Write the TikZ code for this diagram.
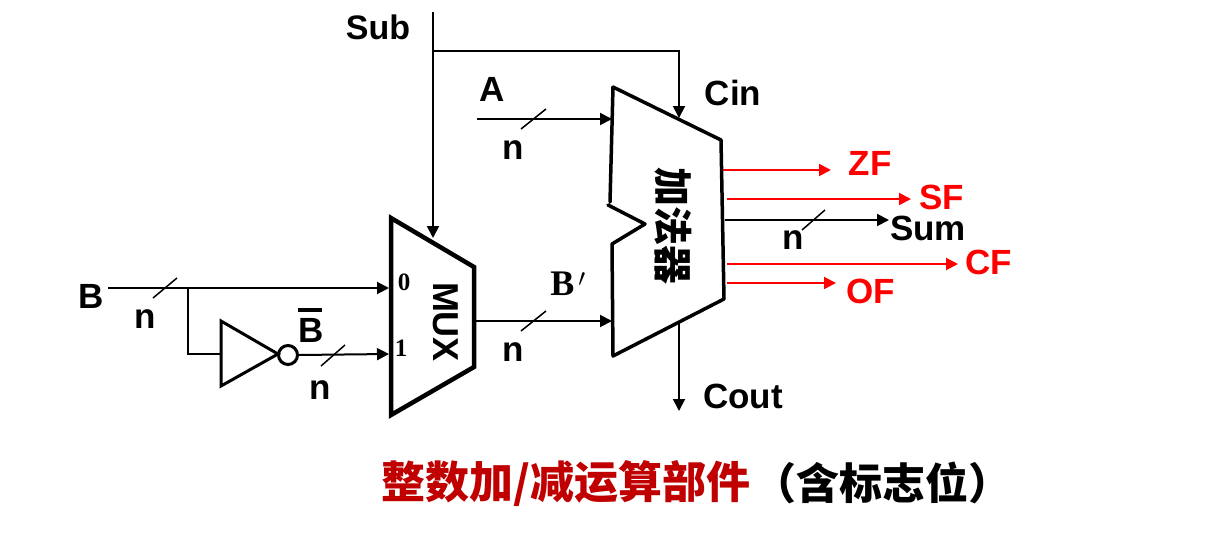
\documentclass[tikz,border=0pt]{standalone}
\usepackage{fontspec}
\setmainfont{Liberation Sans}
\newfontfamily\cjk{Noto Sans CJK SC}
\newfontfamily\serifb{Liberation Serif}
\usetikzlibrary{arrows.meta}
\definecolor{tred}{RGB}{192,0,0}
\tikzset{
 wire/.style={line width=2pt,-{Triangle[length=12pt,width=12pt]}},
 plain/.style={line width=2pt},
 rwire/.style={line width=2pt,red,-{Triangle[length=12pt,width=12pt]}},
 slash/.style={line width=1.5pt},
 block/.style={line width=4.5pt,line join=miter},
 lbl/.style={inner sep=0pt,font=\fontsize{35}{35}\selectfont\bfseries},
 small/.style={inner sep=0pt,font=\fontsize{34}{34}\selectfont\bfseries},
 rlbl/.style={inner sep=0pt,text=red,font=\fontsize{35}{35}\selectfont\bfseries},
 num/.style={inner sep=0pt,font=\fontsize{25}{25}\serifb\bfseries},
}
\begin{document}
\begin{tikzpicture}[x=1pt,y=-1pt]
\useasboundingbox (0,0) rectangle (1211,544);
% Coordinates
\coordinate (subtop) at (433,12);
\coordinate (subj) at (433,51);
\coordinate (subturn) at (679,51);
\coordinate (cinin) at (679,118);
\coordinate (muxsel) at (433,238);
\coordinate (astart) at (477,119);
\coordinate (aend) at (612,119);
\coordinate (bstart) at (108,288);
\coordinate (bj) at (188,288);
\coordinate (bend) at (389,288);
\coordinate (bdown) at (188,354);
\coordinate (invin) at (221,354);
\coordinate (nb2) at (389,354);
\coordinate (mo) at (476,321);
\coordinate (ai) at (612,321);
\coordinate (cout1) at (679,323);
\coordinate (cout2) at (679,411);
% MUX
\draw[block] (391,218) -- (474,267) -- (474,367) -- (391,415) -- cycle;
\node[rotate=-90,inner sep=0pt,font=\fontsize{36}{36}\selectfont\bfseries] (muxt) at (446,322) {MUX};
% Adder
\draw[line width=3.5pt,line join=round,line cap=round] (613,87) -- (721,140) -- (724,299) -- (613,356) -- (612,244) -- (645,224) -- (608,205) (610,202) -- (613,87);
\node[rotate=-90,inner sep=0pt,font=\fontsize{39}{39}\cjk\bfseries] (addt) at (673,226) {加法器};
% Inverter
\draw[line width=3pt,line join=miter] (221,321) -- (278,354) -- (221,386) -- cycle;
\node[circle,draw,line width=3pt,minimum size=19pt,inner sep=0pt] (bub) at (288,355) {};
% Wires
\draw[plain] (subtop) -- (subj);
\draw[wire] (subj) -- (muxsel);
\draw[wire] (subj) -- (subturn) -- (cinin);
\draw[wire] (astart) -- (aend);
\draw[wire] (bstart) -- (bend);
\draw[plain] (bj) -- (bdown) -- (invin);
\draw[wire] (bub.east) -- (nb2);
\draw[wire] (mo) -- (ai);
\draw[wire] (cout1) -- (cout2);
% Output wires
\coordinate (zf0) at (723,170); \coordinate (zf1) at (831,170);
\coordinate (sf0) at (727,199); \coordinate (sf1) at (911,199);
\coordinate (su0) at (725,220); \coordinate (su1) at (889,220);
\coordinate (cf0) at (727,264); \coordinate (cf1) at (958,264);
\coordinate (of0) at (727,283); \coordinate (of1) at (836,283);
\draw[rwire] (zf0) -- (zf1);
\draw[rwire] (sf0) -- (sf1);
\draw[wire] (su0) -- (su1);
\draw[rwire] (cf0) -- (cf1);
\draw[rwire] (of0) -- (of1);
% Slashes
\draw[slash] (521,129) -- (546,109);
\draw[slash] (153,298) -- (177,278);
\draw[slash] (321,366) -- (345,345);
\draw[slash] (521,331) -- (546,311);
\draw[slash] (802,230) -- (825,210);
% Labels
\node[small] (sub) at (378,27) {Sub};
\node[lbl] (a) at (492,89) {A};
\node[lbl] (na) at (513,150) {n};
\node[lbl] (cin) at (733,93) {Cin};
\node[lbl] (b) at (91,296) {B};
\node[lbl] (nbl) at (145,319) {n};
\node[lbl] (barb) at (311,330) {B};
\draw[line width=3.5pt] (298,310) -- (322,310);
\node[lbl] (nbb) at (320,390) {n};
\node[num] (zero) at (404,282) {0};
\node[num] (one) at (401,348) {1};
\node[inner sep=0pt,font=\fontsize{36}{36}\serifb\bfseries] (bp) at (568,284) {B$\,'$};
\node[lbl] (nm) at (513,352) {n};
\node[lbl] (cout) at (743,396) {Cout};
\node[lbl] (ns) at (793,240) {n};
\node[lbl] (sum) at (928,228) {Sum};
\node[rlbl] (zf) at (870,163) {ZF};
\node[rlbl] (sf) at (942,197) {SF};
\node[rlbl] (cf) at (989,262) {CF};
\node[rlbl] (of) at (871,291) {OF};
\node[anchor=west,inner sep=0pt,text=tred,font=\fontsize{44}{44}\cjk\bfseries] (title) at (381,483) {整数加/减运算部件};
\node[inner sep=0pt,font=\fontsize{43}{43}\cjk\bfseries] (titleb) at (882,483) {（含标志位）};
\end{tikzpicture}
\end{document}
